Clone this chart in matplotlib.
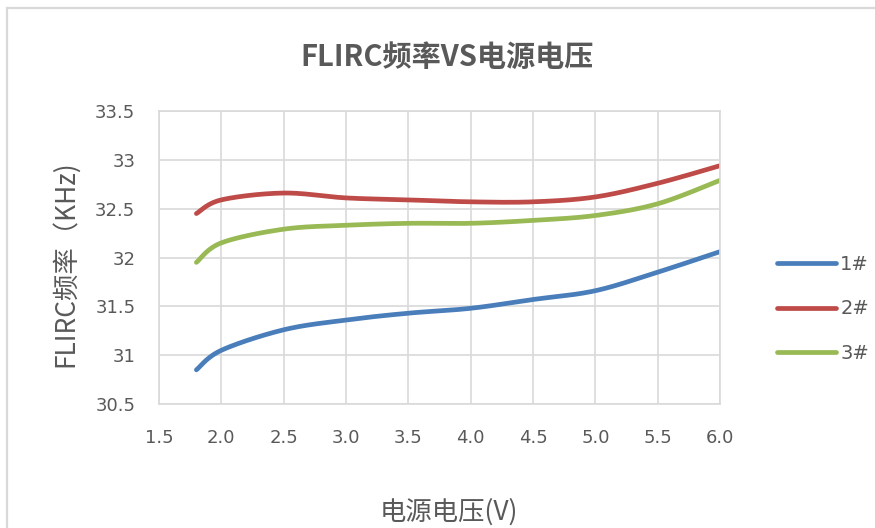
import numpy as np
import matplotlib
matplotlib.use("Agg")
import matplotlib.pyplot as plt
from matplotlib.patches import Rectangle

# supply voltage (V) and FLIRC frequency (KHz) for three samples
voltage = [1.8, 2.0, 2.5, 3.0, 3.5, 4.0, 4.5, 5.0, 5.5, 6.0]
freq_1 = [30.85, 31.05, 31.26, 31.36, 31.43, 31.48, 31.57, 31.66, 31.85, 32.06]
freq_2 = [32.45, 32.59, 32.66, 32.61, 32.59, 32.57, 32.57, 32.62, 32.76, 32.94]
freq_3 = [31.95, 32.15, 32.29, 32.33, 32.35, 32.35, 32.38, 32.43, 32.55, 32.79]
series_names = ["1#", "2#", "3#"]
x_ticks = [1.5, 2.0, 2.5, 3.0, 3.5, 4.0, 4.5, 5.0, 5.5, 6.0]
y_ticks = [30.5, 31, 31.5, 32, 32.5, 33, 33.5]

colors = ["#4a7ebb", "#be4b48", "#98b954"]
grey = "#595959"
cjk = ["Noto Sans CJK SC", "DejaVu Sans"]
narrow = ["Liberation Sans Narrow", "DejaVu Sans"]


# smoothed line through the points (bezier segments, like office charts)
def smooth(x, y, steps=30):
    x = np.asarray(x, float)
    y = np.asarray(y, float)
    n = len(x)
    xs, ys = [], []
    for i in range(n - 1):
        p0 = np.array([x[max(i - 1, 0)], y[max(i - 1, 0)]])
        p1 = np.array([x[i], y[i]])
        p2 = np.array([x[i + 1], y[i + 1]])
        p3 = np.array([x[min(i + 2, n - 1)], y[min(i + 2, n - 1)]])
        c1 = p1 + (p2 - p0) / 6.0
        c2 = p2 - (p3 - p1) / 6.0
        t = np.linspace(0, 1, steps)[:, None]
        pts = ((1 - t) ** 3 * p1 + 3 * (1 - t) ** 2 * t * c1
               + 3 * (1 - t) * t ** 2 * c2 + t ** 3 * p2)
        xs.extend(pts[:, 0])
        ys.extend(pts[:, 1])
    return xs, ys


fig = plt.figure(figsize=(8.75, 5.28), dpi=100)
ax = fig.add_axes([0.1817, 0.2348, 0.6412, 0.555])

# chart frame
fig.patches.append(Rectangle((7 / 875, -0.1), 2, 1.1 - 8 / 528,
                             transform=fig.transFigure, fill=False,
                             edgecolor="#d9d9d9", linewidth=1.6))

for ys, c, name in zip([freq_1, freq_2, freq_3], colors, series_names):
    sx, sy = smooth(voltage, ys)
    ax.plot(sx, sy, color=c, linewidth=3.4, solid_capstyle="round", label=name)

ax.set_xlim(1.5, 6.0)
ax.set_ylim(30.5, 33.5)
ax.set_xticks(x_ticks)
ax.set_xticklabels(["%.1f" % v for v in x_ticks])
ax.set_yticks(y_ticks)
ax.set_yticklabels(["%g" % v for v in y_ticks])
ax.grid(True, color="#d9d9d9", linewidth=1.2)
ax.set_axisbelow(True)
for s in ax.spines.values():
    s.set_color("#d9d9d9")
    s.set_linewidth(1.2)
ax.tick_params(length=0, labelcolor=grey, labelsize=13)
ax.tick_params(axis="x", pad=18)
ax.tick_params(axis="y", pad=17)
for lab in ax.get_xticklabels() + ax.get_yticklabels():
    lab.set_family(narrow)

fig.text(0.511, 0.892, "FLIRC频率VS电源电压", ha="center", va="center",
         fontsize=21, fontweight="bold", color=grey, family=cjk)
fig.text(0.513, 0.03, "电源电压(V)", ha="center", va="center",
         fontsize=19, color=grey, family=cjk)
fig.text(0.074, 0.50, "FLIRC频率（KHz)", ha="center", va="center",
         rotation=90, fontsize=19, color=grey, family=cjk)

leg = ax.legend(loc="center left", bbox_to_anchor=(0.888, 0.415),
                bbox_transform=fig.transFigure, frameon=False,
                borderaxespad=0, borderpad=0,
                handlelength=3.05, handletextpad=0.2, labelspacing=1.3,
                prop={"family": narrow, "size": 14})
for t in leg.get_texts():
    t.set_color(grey)

fig.savefig("out.png", dpi=100)
